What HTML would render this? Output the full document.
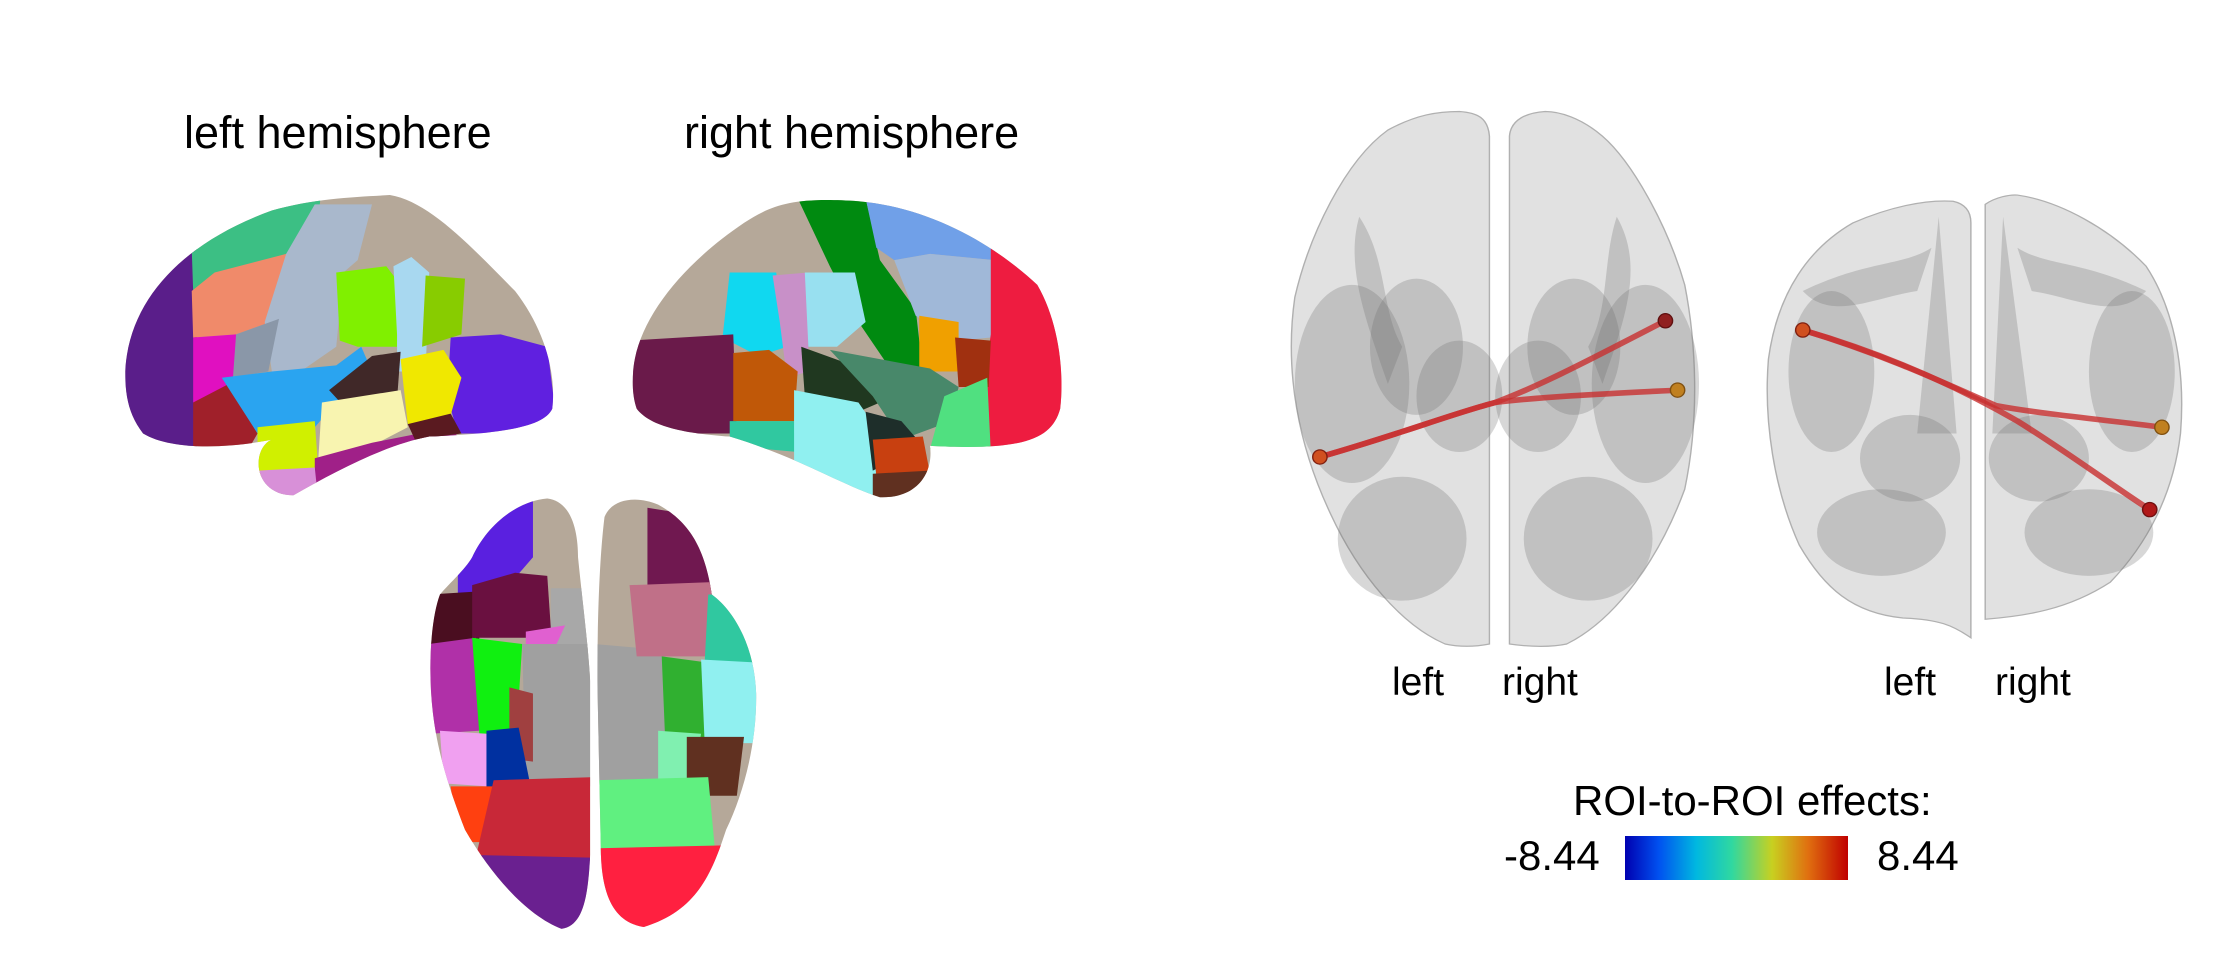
<!DOCTYPE html>
<html><head><meta charset="utf-8"><style>
body{margin:0;width:2232px;height:966px;background:#fff;position:relative;overflow:hidden;font-family:"Liberation Sans",Arial,sans-serif;color:#000}
.t{position:absolute;white-space:nowrap;line-height:1}
svg{position:absolute;top:0}
</style></head><body>
<svg style="left:0" width="1116" height="966" viewBox="0 0 1560 1560" preserveAspectRatio="none">
<defs>
<clipPath id="lb"><path d="M175,600 C180,480 260,390 380,340 C440,320 500,318 545,315 C600,325 660,400 720,470 C760,530 778,600 772,660 C760,690 700,700 600,705 C540,718 470,760 410,800 C375,800 358,770 362,740 C365,720 375,712 380,710 C320,724 240,728 200,700 C180,670 175,640 175,600Z"/></clipPath>
<clipPath id="rb"><path d="M885,600 C890,520 950,430 1040,360 C1080,330 1110,318 1200,325 C1300,335 1390,395 1450,460 C1480,520 1488,600 1482,660 C1470,710 1430,728 1300,720 C1305,760 1285,805 1230,803 C1170,780 1120,740 1020,705 C960,700 910,690 890,660 C884,640 884,620 885,600Z"/></clipPath>
<clipPath id="vl"><path d="M660,900 C680,850 720,810 765,805 C800,810 808,860 808,900 C815,980 822,1040 825,1100 L825,1380 C822,1450 815,1495 785,1500 C740,1480 690,1420 650,1340 C630,1280 612,1220 605,1150 C598,1080 602,1000 615,960 C630,940 650,920 660,900Z"/></clipPath>
<clipPath id="vr"><path d="M845,835 C855,805 890,800 920,815 C960,840 985,880 995,960 C1030,990 1055,1050 1057,1120 C1058,1200 1040,1280 1015,1340 C995,1410 975,1470 900,1497 C860,1490 842,1450 840,1380 L835,1100 C835,1000 838,900 845,835Z"/></clipPath>
</defs>
<g clip-path="url(#lb)">
<rect x="150" y="300" width="650" height="520" fill="#b5a899"/>
<polygon points="150,300 275,300 275,820 150,820" fill="#5a1e8a"/>
<polygon points="265,300 450,300 440,400 400,410 300,470 270,470" fill="#3cbf84"/>
<polygon points="268,470 300,440 400,410 390,515 330,540 270,545" fill="#f08a6a"/>
<polygon points="400,410 440,330 520,330 500,420 480,440 470,560 420,600 380,600 370,520" fill="#a9b8cc"/>
<polygon points="330,540 390,515 375,600 320,610" fill="#8a97a8"/>
<polygon points="270,545 330,540 325,620 280,650 270,650" fill="#e010c0"/>
<polygon points="270,650 320,620 360,700 340,740 270,740" fill="#a0202a"/>
<polygon points="310,610 380,600 470,590 505,560 520,600 470,650 440,690 360,700" fill="#2aa4f0"/>
<polygon points="470,440 540,430 560,460 555,560 500,560 475,550" fill="#80f000"/>
<polygon points="550,430 575,415 600,440 595,600 555,600 555,540" fill="#a8d8f0"/>
<polygon points="595,445 650,450 645,540 590,560" fill="#88cc00"/>
<polygon points="630,545 700,540 765,560 780,700 640,700 625,640" fill="#6020e0"/>
<polygon points="460,630 520,575 560,568 555,645 480,655" fill="#402828"/>
<polygon points="560,580 620,565 645,610 630,670 570,685" fill="#f0e800"/>
<polygon points="450,650 560,630 570,690 520,720 445,740" fill="#f8f4b0"/>
<polygon points="360,690 440,680 445,760 360,770" fill="#d0f000"/>
<polygon points="440,740 520,715 630,690 650,720 600,790 440,800" fill="#a02088"/>
<polygon points="360,760 440,755 445,810 360,810" fill="#d890d8"/>
<polygon points="570,685 630,668 645,700 580,710" fill="#5a1a20"/>
</g>
<g clip-path="url(#rb)">
<rect x="870" y="300" width="640" height="520" fill="#b5a899"/>
<polygon points="1115,320 1210,320 1230,420 1280,500 1290,600 1250,605 1200,520 1160,430" fill="#008a10"/>
<polygon points="1210,320 1400,320 1390,420 1300,410 1250,420 1225,400" fill="#70a0e8"/>
<polygon points="1250,420 1300,410 1390,420 1385,545 1340,550 1280,510" fill="#a0b8d8"/>
<polygon points="1385,400 1510,400 1510,740 1380,740 1375,620 1385,540" fill="#ee1c40"/>
<polygon points="1285,510 1340,520 1340,600 1285,600" fill="#f0a000"/>
<polygon points="1335,545 1385,550 1382,625 1340,625" fill="#a03010"/>
<polygon points="1020,440 1085,440 1100,560 1060,575 1010,545" fill="#10d8f0"/>
<polygon points="1080,445 1130,440 1130,600 1100,610 1090,520" fill="#c890c8"/>
<polygon points="1125,440 1195,440 1210,520 1170,560 1130,560" fill="#98e0f0"/>
<polygon points="880,550 1025,540 1030,700 880,700" fill="#6a1a4a"/>
<polygon points="1025,570 1075,565 1115,600 1110,680 1025,680" fill="#c05808"/>
<polygon points="1120,560 1180,585 1230,650 1200,665 1125,640" fill="#203820"/>
<polygon points="1160,565 1300,595 1340,625 1330,680 1260,710 1220,640" fill="#48886a"/>
<polygon points="1320,640 1380,610 1385,730 1300,725" fill="#50e080"/>
<polygon points="1020,680 1110,680 1115,730 1020,720" fill="#30c8a0"/>
<polygon points="1110,630 1200,650 1230,700 1230,800 1110,800" fill="#90f0f0"/>
<polygon points="1210,665 1260,680 1290,720 1220,760" fill="#1e2e2a"/>
<polygon points="1220,710 1290,705 1300,765 1225,770" fill="#c84010"/>
<polygon points="1220,765 1300,760 1300,810 1220,810" fill="#603020"/>
</g>
<g clip-path="url(#vl)">
<rect x="590" y="790" width="250" height="720" fill="#b5a899"/>
<polygon points="770,950 840,950 840,1050 770,1050" fill="#a8a8a8"/>
<polygon points="640,800 745,800 745,900 700,960 640,960" fill="#5a20e0"/>
<polygon points="600,960 670,955 670,1040 600,1040" fill="#4a0e20"/>
<polygon points="660,945 720,925 765,930 770,1015 740,1030 660,1030" fill="#6a1040"/>
<polygon points="600,1040 665,1030 670,1180 600,1185" fill="#b030a8"/>
<polygon points="660,1030 730,1040 725,1130 715,1185 670,1185" fill="#10f010"/>
<polygon points="735,1020 790,1010 770,1060 735,1080" fill="#e060d0"/>
<polygon points="730,1040 840,1040 840,1270 735,1270" fill="#a0a0a0"/>
<polygon points="712,1110 745,1120 745,1230 712,1225" fill="#a04040"/>
<polygon points="615,1180 680,1185 682,1270 620,1265" fill="#f0a0f0"/>
<polygon points="680,1180 725,1175 740,1260 680,1272" fill="#0030a0"/>
<polygon points="630,1270 710,1270 700,1360 640,1360" fill="#ff4010"/>
<polygon points="690,1260 830,1255 830,1390 665,1385" fill="#c82838"/>
<polygon points="630,1380 830,1385 830,1510 630,1510" fill="#6a2090"/>
</g>
<g clip-path="url(#vr)">
<rect x="830" y="790" width="240" height="720" fill="#b5a899"/>
<polygon points="905,820 960,830 1000,900 995,960 905,945" fill="#701850"/>
<polygon points="830,1040 930,1050 935,1270 830,1270" fill="#a0a0a0"/>
<polygon points="880,945 995,940 995,1060 890,1060" fill="#c07088"/>
<polygon points="990,960 1060,960 1060,1070 985,1070" fill="#30c8a0"/>
<polygon points="925,1060 990,1070 985,1200 930,1200" fill="#30b030"/>
<polygon points="980,1065 1060,1070 1060,1200 985,1200" fill="#90f0f0"/>
<polygon points="920,1180 980,1185 965,1285 920,1280" fill="#80f0b0"/>
<polygon points="960,1190 1040,1190 1030,1285 960,1285" fill="#603020"/>
<polygon points="830,1260 990,1255 1000,1380 830,1385" fill="#60f080"/>
<polygon points="830,1370 1020,1365 1010,1510 830,1510" fill="#ff2040"/>
</g>
</svg>

<svg style="left:1116px" width="1116" height="966" viewBox="0 0 1560 1560" preserveAspectRatio="none">
<g fill="#c8c8c8" fill-opacity="0.55" stroke="#b0b0b0" stroke-width="2">
<path d="M480,180 C505,182 520,190 522,220 L522,1040 C500,1045 480,1045 460,1040 C400,1010 340,930 300,830 C255,720 235,600 250,480 C270,380 320,260 380,210 C420,185 450,180 480,180Z"/>
<path d="M600,180 C575,182 552,192 550,220 L550,1040 C580,1045 610,1045 630,1040 C700,1000 760,900 795,790 C815,680 812,560 795,460 C770,360 720,260 680,220 C650,190 620,180 600,180Z"/>
<path d="M1170,325 C1190,330 1195,345 1195,360 L1195,1030 C1170,1010 1150,1000 1100,998 C1030,990 990,950 955,880 C920,790 905,680 912,580 C925,470 970,400 1030,360 C1080,335 1130,322 1170,325Z"/>
<path d="M1215,330 C1230,318 1250,314 1260,315 C1320,325 1390,370 1440,430 C1480,500 1495,600 1488,700 C1478,800 1440,880 1390,940 C1330,985 1270,995 1215,1000Z"/>
</g>
<g fill="#707070" fill-opacity="0.28">
<ellipse cx="330" cy="620" rx="80" ry="160"/><ellipse cx="740" cy="620" rx="75" ry="160"/>
<ellipse cx="420" cy="560" rx="65" ry="110"/><ellipse cx="640" cy="560" rx="65" ry="110"/>
<ellipse cx="480" cy="640" rx="60" ry="90"/><ellipse cx="590" cy="640" rx="60" ry="90"/>
<ellipse cx="400" cy="870" rx="90" ry="100"/><ellipse cx="660" cy="870" rx="90" ry="100"/>
<path d="M340,350 C380,420 370,500 400,560 L380,620 C350,520 320,430 340,350Z"/>
<path d="M700,350 C680,420 690,500 660,560 L680,620 C710,520 740,430 700,350Z"/>
<ellipse cx="1070" cy="860" rx="90" ry="70"/><ellipse cx="1360" cy="860" rx="90" ry="70"/>
<ellipse cx="1110" cy="740" rx="70" ry="70"/><ellipse cx="1290" cy="740" rx="70" ry="70"/>
<ellipse cx="1000" cy="600" rx="60" ry="130"/><ellipse cx="1420" cy="600" rx="60" ry="130"/>
<path d="M1150,350 L1175,700 L1120,700 Z"/><path d="M1240,350 L1225,700 L1280,700 Z"/>
<path d="M960,470 C1050,420 1100,430 1140,400 L1120,470 C1060,480 1000,520 960,470Z"/>
<path d="M1440,470 C1350,420 1300,430 1260,400 L1280,470 C1340,480 1400,520 1440,470Z"/>
</g>
<g fill="none" stroke="#c83030" stroke-opacity="0.8" stroke-width="9" stroke-linecap="round">
<path d="M285,738 C400,700 470,668 530,650 C600,620 680,570 768,518"/>
<path d="M285,738 C400,700 470,668 530,650 C600,640 700,635 785,630"/>
<path d="M960,533 C1100,580 1200,640 1260,680 C1330,730 1400,790 1445,823"/>
<path d="M960,533 C1080,575 1170,625 1230,655 C1300,670 1400,680 1462,690"/>
</g>
<ellipse cx="285" cy="738" rx="10" ry="11.5" fill="#d05020" stroke="#802010" stroke-width="2"/>
<ellipse cx="768" cy="518" rx="10" ry="11.5" fill="#902020" stroke="#601010" stroke-width="2"/>
<ellipse cx="785" cy="630" rx="10" ry="11.5" fill="#c08020" stroke="#805010" stroke-width="2"/>
<ellipse cx="960" cy="533" rx="10" ry="11.5" fill="#d05020" stroke="#802010" stroke-width="2"/>
<ellipse cx="1462" cy="690" rx="10" ry="11.5" fill="#c08020" stroke="#805010" stroke-width="2"/>
<ellipse cx="1445" cy="823" rx="10" ry="11.5" fill="#b01818" stroke="#701010" stroke-width="2"/>
</svg>

<div class="t" style="left:184px;top:110px;font-size:45px">left hemisphere</div>
<div class="t" style="left:684px;top:110px;font-size:45px">right hemisphere</div>
<div class="t" style="left:1392px;top:663px;font-size:39px">left</div>
<div class="t" style="left:1502px;top:663px;font-size:39px">right</div>
<div class="t" style="left:1884px;top:663px;font-size:39px">left</div>
<div class="t" style="left:1995px;top:663px;font-size:39px">right</div>
<div class="t" style="left:1573px;top:780px;font-size:42px">ROI-to-ROI effects:</div>
<div class="t" style="left:1504px;top:835px;font-size:42px">-8.44</div>
<div class="t" style="left:1877px;top:835px;font-size:42px">8.44</div>
<div style="position:absolute;left:1625px;top:836px;width:223px;height:44px;background:linear-gradient(to right,#0000b0,#0050f0 15%,#00b8e0 32%,#30d8a0 48%,#c8d020 66%,#e07010 82%,#c00000)"></div>
</body></html>
